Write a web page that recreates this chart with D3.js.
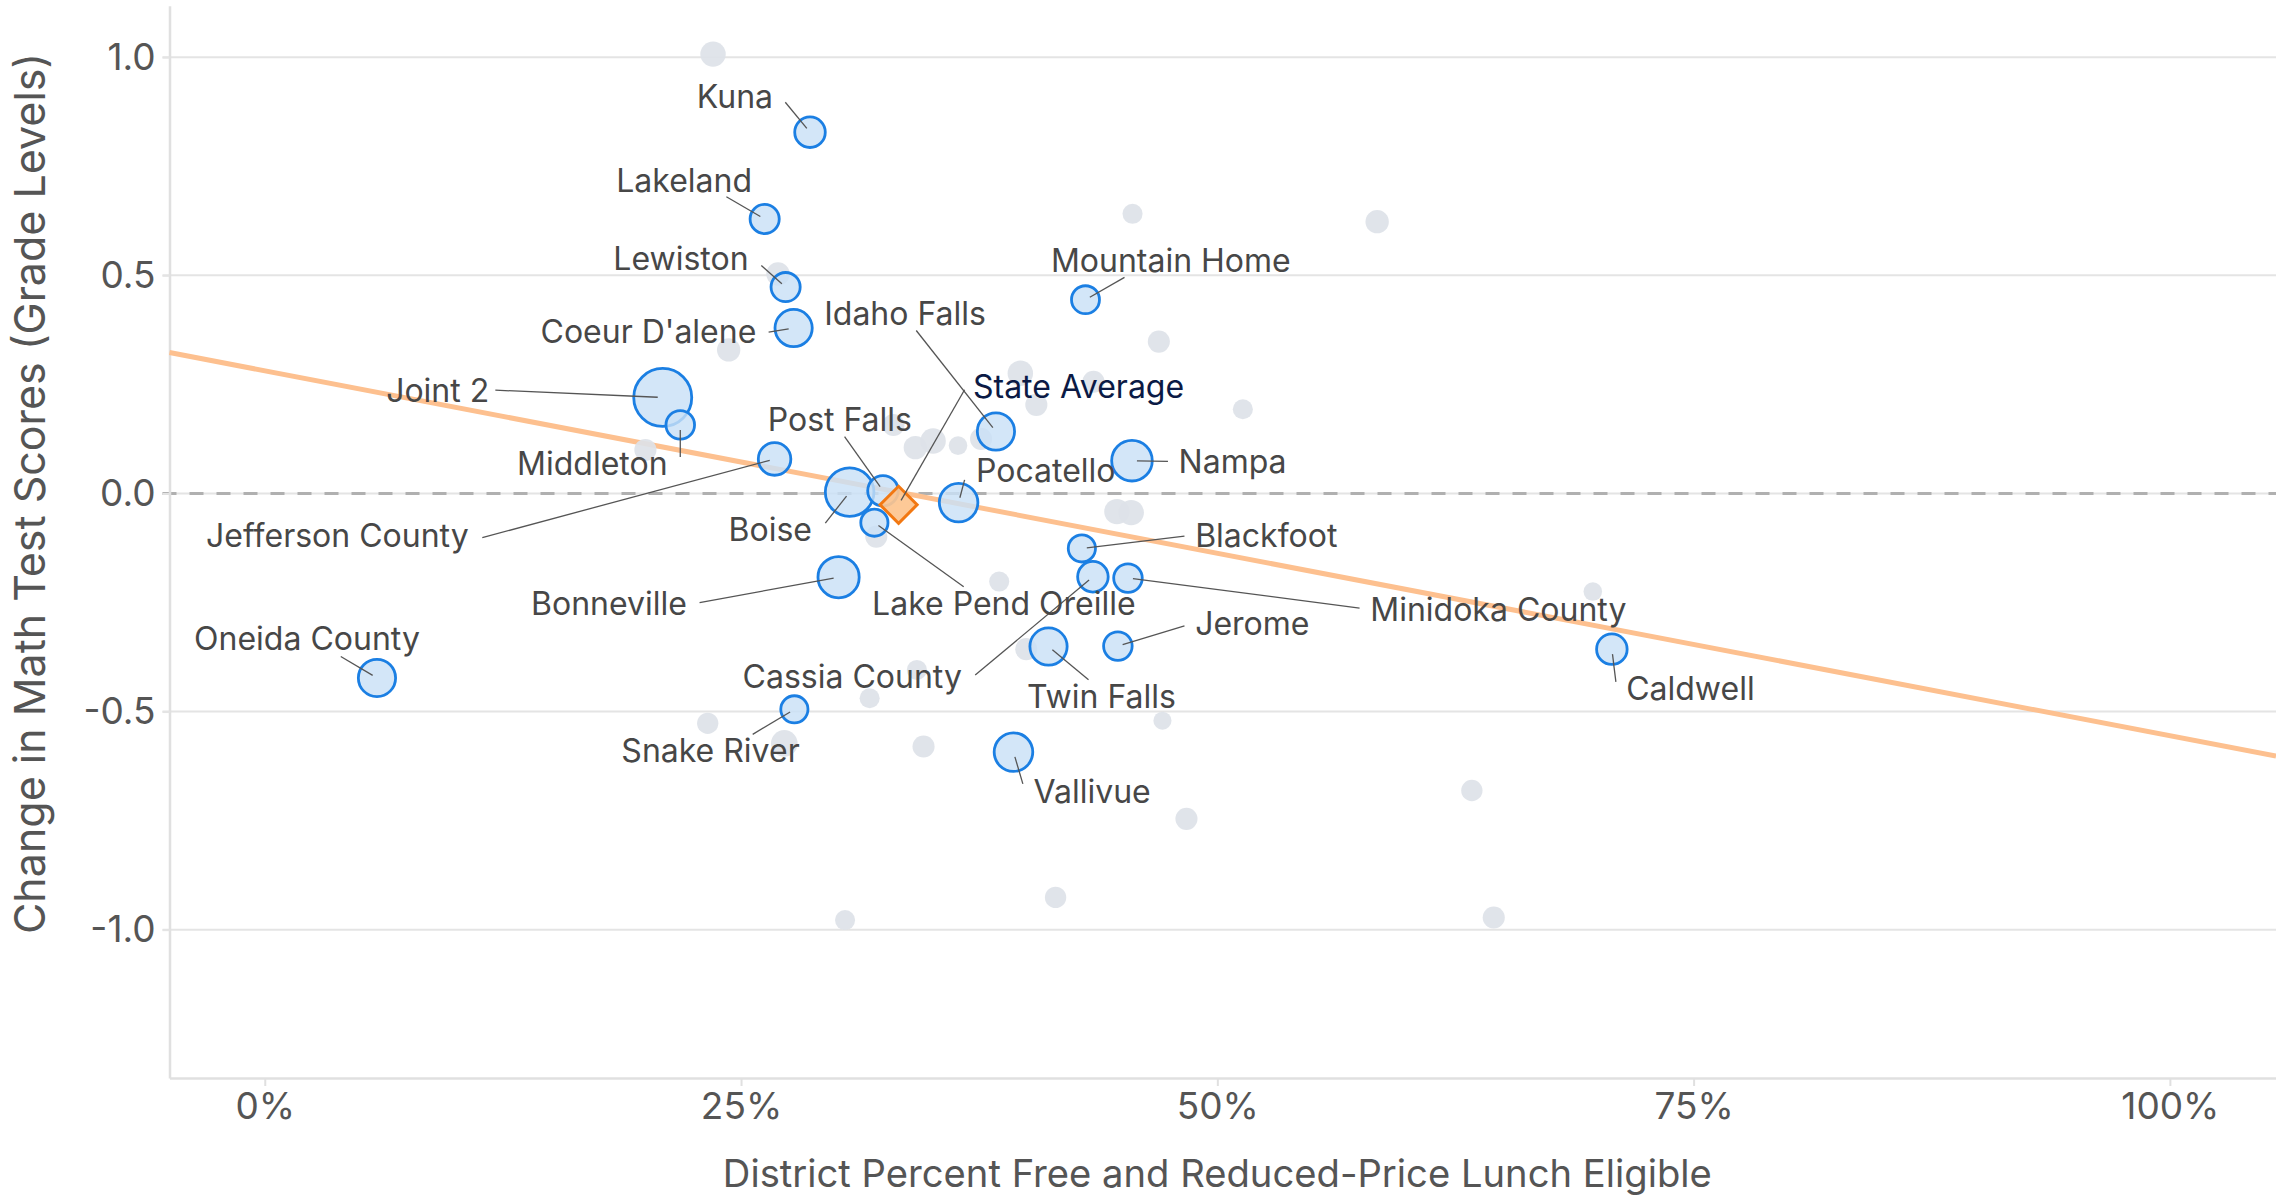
<!DOCTYPE html>
<html>
<head>
<meta charset="utf-8">
<script src="https://cdn.jsdelivr.net/npm/d3@7"></script>
<style>
  html, body { margin: 0; padding: 0; background: #ffffff; }
  svg { display: block; font-family: Inter, "Noto Sans", sans-serif; }
</style>
</head>
<body>
<svg id="chart" width="2276" height="1197"></svg>
<script>
// ---------------- DATA ----------------
// Highlighted districts
const districts = ["Joint 2","Boise","Bonneville","Nampa","Pocatello","Vallivue","Idaho Falls","Twin Falls",
  "Coeur D'alene","Oneida County","Jefferson County","Kuna","Post Falls","Caldwell","Lakeland","Lewiston",
  "Middleton","Mountain Home","Blackfoot","Cassia County","Minidoka County","Jerome","Lake Pend Oreille","Snake River"];
const districtFrl = [0.2089,0.3070,0.3012,0.4552,0.3642,0.3930,0.3838,0.4114,
  0.2776,0.0589,0.2676,0.2862,0.3245,0.7071,0.2624,0.2734,
  0.2181,0.4308,0.4289,0.4347,0.4531,0.4478,0.3200,0.2780];
const districtChange = [0.220,0.003,-0.192,0.075,-0.021,-0.593,0.142,-0.351,
  0.379,-0.423,0.079,0.828,0.006,-0.357,0.629,0.473,
  0.157,0.444,-0.126,-0.191,-0.194,-0.350,-0.067,-0.495];
const districtEnroll = [40,28.1,20.2,19.6,17.7,17.7,16.5,16.5,
  16.5,16.5,12.6,11.1,11.1,11.1,10.1,10.1,
  9.7,9.3,8.8,11.1,9.7,9.7,8.8,8.8];

// Other districts (grey)
const otherFrl = [0.2353,0.2694,0.2435,0.1998,0.3966,0.4050,0.4350,0.3415,0.3508,0.3639,0.3300,0.3760,
  0.3210,0.4473,0.4548,0.3855,0.3997,0.4712,0.4838,0.4151,0.6336,0.6451,0.2325,0.2727,0.3175,0.3423,
  0.3458,0.3046,0.4555,0.5839,0.4693,0.5134,0.6971];
const otherChange = [1.007,0.503,0.329,0.0997,0.2756,0.203,0.256,0.105,0.1204,0.1096,0.157,0.125,
  -0.099,-0.0417,-0.044,-0.202,-0.357,-0.521,-0.746,-0.926,-0.681,-0.972,-0.527,-0.573,-0.4695,-0.4046,
  -0.580,-0.978,0.641,0.623,0.348,0.193,-0.225];
const otherEnroll = [7.7,6.5,6.5,5.8,7.7,5.8,5.8,6.5,7.7,4.1,5.8,5.8,
  5.8,7.7,7.7,4.8,5.8,3.9,5.8,5.4,5.4,5.8,5.4,8.4,4.8,4.8,
  5.8,4.8,4.8,6.5,5.8,4.8,4.1];

// State average
const stateName = ["State Average"];
const stateFrl = [0.3327];
const stateChange = [-0.026];

// Trend line (end points)
const trendFrl = [-0.05, 1.0557];
const trendChange = [0.323, -0.602];

// Ticks
const xTicks = [0, 0.25, 0.5, 0.75, 1.0];
const xTickLabels = ["0%", "25%", "50%", "75%", "100%"];
const yTicks = [-1.0, -0.5, 0.0, 0.5, 1.0];
const yTickLabels = ["-1.0", "-0.5", "0.0", "0.5", "1.0"];

const xTitle = "District Percent Free and Reduced-Price Lunch Eligible";
const yTitle = "Change in Math Test Scores (Grade Levels)";

// ---------------- LAYOUT (label placement, px offsets from the point) ----------------
// t: text anchor offset, a: text-anchor, l: leader line start offset
const labelLayout = {
  "Kuna":            {t:[-37,-24.6], a:"end",   l:[-24.7,-30]},
  "Lakeland":        {t:[-12.6,-26.7], a:"end", l:[-38.3,-22.3]},
  "Lewiston":        {t:[-37,-16.6], a:"end",   l:[-24.3,-21.6]},
  "Coeur D'alene":   {t:[-37.3,15], a:"end",    l:[-25,4]},
  "Joint 2":         {t:[-173.5,4.1], a:"end",  l:[-167.4,-7.3]},
  "Middleton":       {t:[-12.7,49.6], a:"end",  l:[0,32]},
  "Jefferson County":{t:[-305.9,88.3], a:"end", l:[-292.3,78.7]},
  "Idaho Falls":     {t:[-10,-106.7], a:"end",  l:[-79.7,-101]},
  "Mountain Home":   {t:[-34.6,-27.3], a:"start", l:[39,-22.3]},
  "Post Falls":      {t:[29,-60.3], a:"end",    l:[-38.4,-54.3]},
  "Boise":           {t:[-37.6,48.7], a:"end",  l:[-24.3,31]},
  "Lake Pend Oreille":{t:[-2.3,92.3], a:"start", l:[89.3,64]},
  "Pocatello":       {t:[17.4,-21], a:"start",  l:[6,-22.7]},
  "Nampa":           {t:[46.6,12.3], a:"start", l:[36,0.7]},
  "Blackfoot":       {t:[113.3,-1.6], a:"start", l:[102.6,-12.3]},
  "Minidoka County": {t:[242.3,43.4], a:"start", l:[231.6,30]},
  "Jerome":          {t:[77.3,-11], a:"start",  l:[66.6,-20.3]},
  "Cassia County":   {t:[-131,111.6], a:"end",  l:[-117.7,98.3]},
  "Twin Falls":      {t:[-21.6,61], a:"start",  l:[40,33.3]},
  "Vallivue":        {t:[20,50.4], a:"start",   l:[9.4,31.7]},
  "Snake River":     {t:[5.3,52.4], a:"end",    l:[-41.7,25]},
  "Bonneville":      {t:[-151.7,37.9], a:"end", l:[-139,25.4]},
  "Oneida County":   {t:[42.9,-27.6], a:"end",  l:[-36.2,-21.4]},
  "Caldwell":        {t:[14.3,51], a:"start",   l:[4,32.7]},
  "State Average":   {t:[74.4,-106.7], a:"start", l:[66,-115]}
};

// ---------------- CHART ----------------
const W = 2276, H = 1197;
const plotLeft = 169.5, plotRight = 2276, plotTop = 5.7, plotBottom = 1078;

const x = d3.scaleLinear().domain([-0.05, 1.0557]).range([plotLeft, plotRight]);
const y = d3.scaleLinear().domain([-1.34, 1.118]).range([plotBottom, plotTop]);
const r = d3.scaleSqrt().domain([0, 40]).range([0, 29]);

const svg = d3.select("#chart");

// gridlines
svg.append("g").selectAll("line").data(yTicks).join("line")
  .attr("x1", plotLeft - 7).attr("x2", plotRight)
  .attr("y1", d => y(d)).attr("y2", d => y(d))
  .attr("stroke", "#e4e4e4").attr("stroke-width", 2);

// zero dashed line
svg.append("line")
  .attr("x1", plotLeft - 7).attr("x2", plotRight)
  .attr("y1", y(0)).attr("y2", y(0))
  .attr("stroke", "#b0b0b0").attr("stroke-width", 3)
  .attr("stroke-dasharray", "14,13");

// axes
const xAxis = d3.axisBottom(x).tickValues(xTicks)
  .tickFormat((d, i) => xTickLabels[i]).tickSizeInner(8).tickSizeOuter(0).tickPadding(7);
const gx = svg.append("g").attr("transform", `translate(0,${plotBottom})`).call(xAxis);
gx.select(".domain").attr("stroke", "#e0e0e0").attr("stroke-width", 2.5);
gx.selectAll(".tick line").attr("stroke", "#e0e0e0").attr("stroke-width", 2);
gx.selectAll(".tick text").attr("fill", "#555").style("font-size", "37px")
  .style("font-family", "Inter, 'Noto Sans', sans-serif");

const yAxis = d3.axisLeft(y).tickValues(yTicks)
  .tickFormat((d, i) => yTickLabels[i]).tickSizeInner(7).tickSizeOuter(0).tickPadding(7);
const gy = svg.append("g").attr("transform", `translate(${plotLeft},0)`).call(yAxis);
gy.select(".domain").attr("stroke", "#e0e0e0").attr("stroke-width", 2.5);
gy.selectAll(".tick line").attr("stroke", "#e4e4e4").attr("stroke-width", 2);
gy.selectAll(".tick text").attr("fill", "#555").style("font-size", "37px")
  .style("font-family", "Inter, 'Noto Sans', sans-serif");

// axis titles
svg.append("text")
  .attr("x", x(0.5)).attr("y", 1187)
  .attr("text-anchor", "middle").attr("fill", "#555")
  .style("font-size", "38.2px").text(xTitle);
svg.append("text")
  .attr("transform", `translate(45,${y(0)}) rotate(-90)`)
  .attr("text-anchor", "middle").attr("fill", "#555")
  .style("font-size", "43px").text(yTitle);

// trend line
svg.append("line")
  .attr("x1", x(trendFrl[0])).attr("y1", y(trendChange[0]))
  .attr("x2", x(trendFrl[1])).attr("y2", y(trendChange[1]))
  .attr("stroke", "#fdc08f").attr("stroke-width", 5);

// grey points
const others = otherFrl.map((f, i) => ({frl: f, change: otherChange[i], enroll: otherEnroll[i]}));
svg.append("g").selectAll("circle").data(others).join("circle")
  .attr("cx", d => x(d.frl)).attr("cy", d => y(d.change)).attr("r", d => r(d.enroll))
  .attr("fill", "#dde2e8").attr("fill-opacity", 0.92);

// highlighted points
const hi = districts.map((n, i) => ({name: n, frl: districtFrl[i], change: districtChange[i], enroll: districtEnroll[i]}));
svg.append("g").selectAll("circle").data(hi).join("circle")
  .attr("cx", d => x(d.frl)).attr("cy", d => y(d.change)).attr("r", d => r(d.enroll))
  .attr("fill", "#c9e0f7").attr("fill-opacity", 0.82)
  .attr("stroke", "#1b7fe3").attr("stroke-width", 2.8);

// state average diamond
const state = stateName.map((n, i) => ({name: n, frl: stateFrl[i], change: stateChange[i]}));
svg.append("g").selectAll("path").data(state).join("path")
  .attr("d", d3.symbol().type(d3.symbolSquare).size(686))
  .attr("transform", d => `translate(${x(d.frl)},${y(d.change)}) rotate(45)`)
  .attr("fill", "#fdc48e").attr("fill-opacity", 0.92)
  .attr("stroke", "#f27812").attr("stroke-width", 3);

// labels + leaders
const labelled = hi.concat(state.map(s => Object.assign({isState: true}, s)));
const lg = svg.append("g");
labelled.forEach(d => {
  const L = labelLayout[d.name];
  if (!L) return;
  const cx = x(d.frl), cy = y(d.change);
  const sx = cx + L.l[0], sy = cy + L.l[1];
  const dx = cx - sx, dy = cy - sy, len = Math.hypot(dx, dy);
  const shrink = 5;
  lg.append("line")
    .attr("x1", sx).attr("y1", sy)
    .attr("x2", cx - dx / len * shrink).attr("y2", cy - dy / len * shrink)
    .attr("stroke", "#555").attr("stroke-width", 1.3);
});
labelled.forEach(d => {
  const L = labelLayout[d.name];
  if (!L) return;
  lg.append("text")
    .attr("x", x(d.frl) + L.t[0]).attr("y", y(d.change) + L.t[1])
    .attr("text-anchor", L.a)
    .attr("fill", d.isState ? "#0b1a45" : "#474747")
    .style("font-size", "32px")
    .text(d.name);
});
</script>
</body>
</html>
